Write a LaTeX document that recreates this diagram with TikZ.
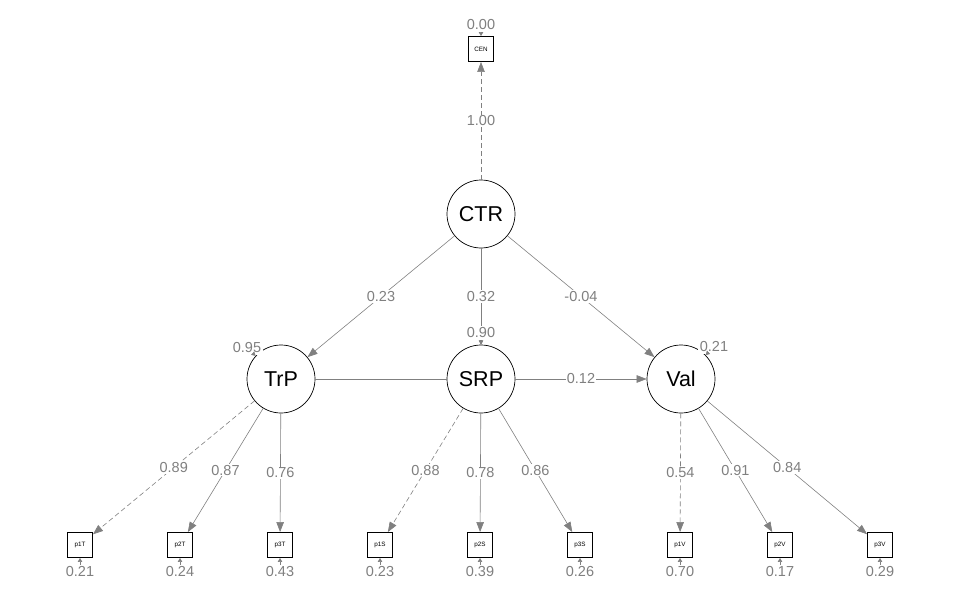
\documentclass[tikz,border=0pt]{standalone}
\usepackage{fontspec}
\setmainfont{Liberation Sans}
\usetikzlibrary{arrows.meta}
\definecolor{eg}{RGB}{128,128,128}
\begin{document}
\begin{tikzpicture}[x=1pt,y=-1pt,
  lat/.style={circle,draw=black,line width=0.7pt,minimum size=68pt,inner sep=0pt,fill=white,font=\fontsize{21.5}{22}\selectfont},
  man/.style={rectangle,draw=black,line width=0.9pt,minimum size=25pt,inner sep=0pt,fill=white,font=\fontsize{6.3}{7}\selectfont},
  reg/.style={draw=eg,line width=0.6pt,-{Triangle[length=10pt,width=7.5pt]}},
  cov/.style={draw=eg,line width=0.6pt},
  dsh/.style={dash pattern=on 5pt off 3pt},
  lbl/.style={fill=white,text=eg,inner sep=1pt,font=\fontsize{14.5}{15}\selectfont},
  resl/.style={fill=white,text=eg,inner sep=1.5pt,font=\fontsize{14.5}{15}\selectfont},
  resa/.style={draw=eg,line width=0.6pt,-{Triangle[length=4pt,width=4.5pt]}}
]
\useasboundingbox (0,0) rectangle (962,594);

% latent nodes
\node[lat] (CTR) at (481,214) {CTR};
\node[lat] (TrP) at (281,379) {TrP};
\node[lat] (SRP) at (481,379) {SRP};
\node[lat] (Val) at (681,379) {Val};

% manifest nodes
\node[man] (CEN) at (481,49) {CEN};
\node[man] (p1T) at (80,545) {p1T};
\node[man] (p2T) at (180,545) {p2T};
\node[man] (p3T) at (280,545) {p3T};
\node[man] (p1S) at (380,545) {p1S};
\node[man] (p2S) at (480,545) {p2S};
\node[man] (p3S) at (580,545) {p3S};
\node[man] (p1V) at (680,545) {p1V};
\node[man] (p2V) at (780,545) {p2V};
\node[man] (p3V) at (880,545) {p3V};

% structural paths
\draw[reg,dsh] (CTR) -- node[lbl] {1.00} (CEN);
\draw[reg] (CTR) -- node[lbl] {0.23} (TrP);
\draw[reg] (CTR) -- node[lbl] {0.32} (SRP);
\draw[reg] (CTR) -- node[lbl] {-0.04} (Val);
\draw[cov] (TrP) -- (SRP);
\draw[reg] (SRP) -- node[lbl] {0.12} (Val);

% loadings
\draw[reg,dsh] (TrP) -- node[lbl] {0.89} (p1T);
\draw[reg] (TrP) -- node[lbl] {0.87} (p2T);
\draw[reg] (TrP) -- node[lbl] {0.76} (p3T);
\draw[reg,dsh] (SRP) -- node[lbl] {0.88} (p1S);
\draw[reg] (SRP) -- node[lbl] {0.78} (p2S);
\draw[reg] (SRP) -- node[lbl] {0.86} (p3S);
\draw[reg,dsh] (Val) -- node[lbl] {0.54} (p1V);
\draw[reg] (Val) -- node[lbl] {0.91} (p2V);
\draw[reg] (Val) -- node[lbl] {0.84} (p3V);

% residuals
\node[resl] (rCEN) at (481,25) {0.00};
\node[resl] (rTrP) at (247,348) {0.95};
\node[resl] (rSRP) at (481,333) {0.90};
\node[resl] (rVal) at (714,347) {0.21};
\node[resl] (r1T) at (80,572) {0.21};
\node[resl] (r2T) at (180,572) {0.24};
\node[resl] (r3T) at (280,572) {0.43};
\node[resl] (r1S) at (380,572) {0.23};
\node[resl] (r2S) at (480,572) {0.39};
\node[resl] (r3S) at (580,572) {0.26};
\node[resl] (r1V) at (680,572) {0.70};
\node[resl] (r2V) at (780,572) {0.17};
\node[resl] (r3V) at (880,572) {0.29};

\draw[resa] (rCEN) -- (CEN);
\draw[resa] (rTrP) -- (TrP);
\draw[resa] (rSRP) -- (SRP);
\draw[resa] (rVal) -- (Val);
\draw[resa] (r1T) -- (p1T);
\draw[resa] (r2T) -- (p2T);
\draw[resa] (r3T) -- (p3T);
\draw[resa] (r1S) -- (p1S);
\draw[resa] (r2S) -- (p2S);
\draw[resa] (r3S) -- (p3S);
\draw[resa] (r1V) -- (p1V);
\draw[resa] (r2V) -- (p2V);
\draw[resa] (r3V) -- (p3V);
\end{tikzpicture}
\end{document}
